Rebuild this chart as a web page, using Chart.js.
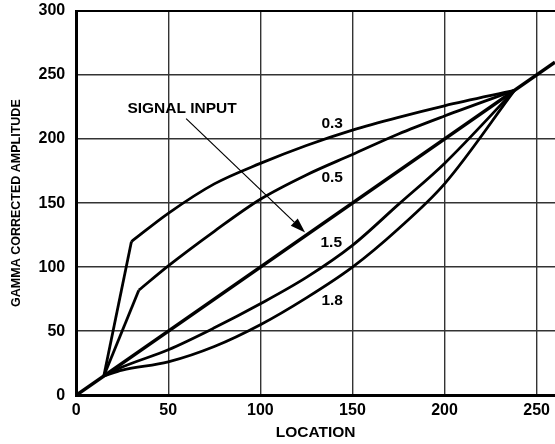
<!DOCTYPE html>
<html>
<head>
<meta charset="utf-8">
<script src="https://cdn.jsdelivr.net/npm/chart.js@4.4.1/dist/chart.umd.min.js"></script>
<style>
  html, body { margin: 0; padding: 0; background: #fff; }
  #wrap { width: 555px; height: 444px; }
</style>
</head>
<body>
<div id="wrap"><canvas id="gammaChart"></canvas></div>
<script>
// values
const signalLoc = [0, 260];
const signalAmp = [0, 260];

const leg03Loc = [15, 30];
const leg03Amp = [15, 120];
const leg05Loc = [15, 34];
const leg05Amp = [15, 82];

const gamma03Loc = [30, 50, 75, 100, 125, 150, 175, 200, 238];
const gamma03Amp = [120, 142, 165, 181, 195, 207, 217, 226, 238];

const gamma05Loc = [34, 50, 75, 100, 125, 150, 175, 200, 238];
const gamma05Amp = [82, 101, 128, 153, 172, 188, 204, 218, 238];

const gamma15Loc = [15, 25, 50, 75, 100, 125, 150, 175, 200, 238];
const gamma15Amp = [15, 22, 35.5, 52.6, 71.4, 92, 117, 149, 181, 238];

const gamma18Loc = [15, 25, 50, 75, 100, 125, 150, 175, 200, 238];
const gamma18Amp = [15, 19.5, 26, 38, 55, 76, 100, 130, 165, 238];

// text labels placed at data coordinates
const curveLabels = [
    { text: '0.3', x: 139, y: 212 },
    { text: '0.5', x: 139, y: 170 },
    { text: '1.5', x: 138.5, y: 119 },
    { text: '1.8', x: 139, y: 74 },
    { text: 'SIGNAL INPUT', x: 57.5, y: 223.5 }
];
const arrowFrom = { x: 59.7, y: 216 };
const arrowTo = { x: 124.3, y: 127 };

function toPoints(xs, ys) {
    return xs.map((x, i) => ({ x: x, y: ys[i] }));
}

function lineSet(xs, ys, width, curved) {
    return {
        data: toPoints(xs, ys),
        borderColor: '#000',
        borderWidth: width,
        pointRadius: 0,
        fill: false,
        tension: 0,
        cubicInterpolationMode: curved ? 'monotone' : 'default'
    };
}

const annotationPlugin = {
    id: 'gammaLabels',
    afterDatasetsDraw(chart) {
        const ctx = chart.ctx;
        const xs = chart.scales.x;
        const ys = chart.scales.y;
        ctx.save();
        ctx.fillStyle = '#000';
        ctx.font = 'bold 15.5px "Liberation Sans", Arial, sans-serif';
        ctx.textAlign = 'center';
        ctx.textBaseline = 'middle';
        curveLabels.forEach(l => {
            ctx.fillText(l.text, xs.getPixelForValue(l.x), ys.getPixelForValue(l.y));
        });

        const x1 = xs.getPixelForValue(arrowFrom.x);
        const y1 = ys.getPixelForValue(arrowFrom.y);
        const x2 = xs.getPixelForValue(arrowTo.x);
        const y2 = ys.getPixelForValue(arrowTo.y);
        const ang = Math.atan2(y2 - y1, x2 - x1);
        const headLen = 15;
        const headHalf = 5;
        const bx = x2 - headLen * Math.cos(ang);
        const by = y2 - headLen * Math.sin(ang);

        ctx.strokeStyle = '#000';
        ctx.lineWidth = 1.2;
        ctx.beginPath();
        ctx.moveTo(x1, y1);
        ctx.lineTo(bx, by);
        ctx.stroke();

        ctx.beginPath();
        ctx.moveTo(x2, y2);
        ctx.lineTo(bx + headHalf * Math.sin(ang), by - headHalf * Math.cos(ang));
        ctx.lineTo(bx - headHalf * Math.sin(ang), by + headHalf * Math.cos(ang));
        ctx.closePath();
        ctx.fill();
        ctx.restore();
    }
};

const tickFont = { family: '"Liberation Sans", Arial, sans-serif', size: 16, weight: 'bold' };

new Chart(document.getElementById('gammaChart'), {
    type: 'line',
    data: {
        datasets: [
            lineSet(signalLoc, signalAmp, 3.5, false),
            lineSet(leg03Loc, leg03Amp, 2.8, false),
            lineSet(leg05Loc, leg05Amp, 2.8, false),
            lineSet(gamma03Loc, gamma03Amp, 2.8, true),
            lineSet(gamma05Loc, gamma05Amp, 2.8, true),
            lineSet(gamma15Loc, gamma15Amp, 2.8, true),
            lineSet(gamma18Loc, gamma18Amp, 2.8, true)
        ]
    },
    options: {
        responsive: true,
        maintainAspectRatio: false,
        animation: false,
        layout: { padding: { left: 0, right: 0, top: 11, bottom: 0 } },
        plugins: {
            legend: { display: false },
            tooltip: { enabled: false }
        },
        scales: {
            x: {
                type: 'linear',
                min: 0,
                max: 260,
                border: { display: true, color: '#000', width: 3 },
                grid: {
                    color: '#333',
                    lineWidth: 1.4,
                    drawTicks: true,
                    tickLength: 6,
                    tickColor: 'rgba(0,0,0,0)'
                },
                ticks: {
                    stepSize: 50,
                    includeBounds: false,
                    padding: 0,
                    color: '#000',
                    font: tickFont
                },
                title: {
                    display: true,
                    text: 'LOCATION',
                    color: '#000',
                    font: { family: '"Liberation Sans", Arial, sans-serif', size: 15.5, weight: 'bold' },
                    padding: { top: 3, bottom: 2 }
                }
            },
            y: {
                min: 0,
                max: 300,
                border: { display: true, color: '#000', width: 3 },
                grid: {
                    color: c => (c.tick && c.tick.value === 300 ? '#000' : '#333'),
                    lineWidth: c => (c.tick && c.tick.value === 300 ? 2 : 1.4),
                    drawTicks: true,
                    tickLength: 11,
                    tickColor: 'rgba(0,0,0,0)'
                },
                ticks: {
                    stepSize: 50,
                    padding: 0,
                    color: '#000',
                    font: tickFont
                },
                title: {
                    display: true,
                    text: 'GAMMA CORRECTED AMPLITUDE',
                    color: '#000',
                    font: { family: '"Liberation Sans", Arial, sans-serif', size: 12.5, weight: 'bold' },
                    padding: { top: 9, bottom: 14.5 }
                }
            }
        }
    },
    plugins: [annotationPlugin]
});
</script>
</body>
</html>
